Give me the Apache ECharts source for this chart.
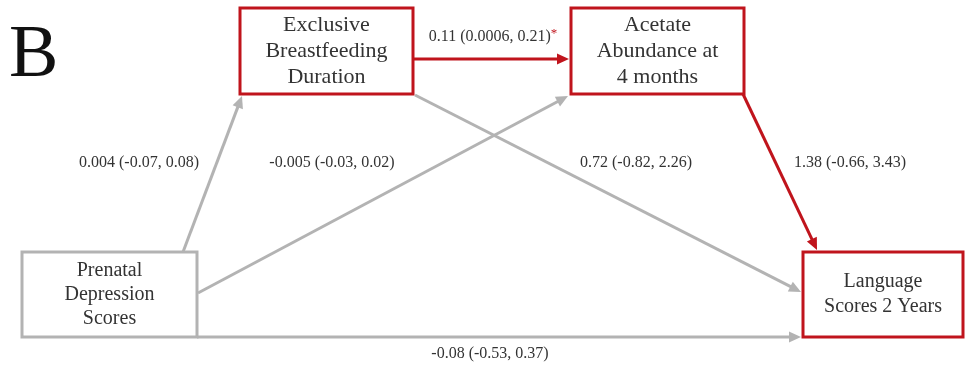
<!DOCTYPE html>
<html>
<head>
<meta charset="utf-8">
<script src="https://cdn.jsdelivr.net/npm/echarts@6/dist/echarts.min.js"></script>
<style>
  html, body { margin: 0; padding: 0; background: #fff; }
  #chart { width: 965px; height: 367px; }
</style>
</head>
<body>
<div id="chart"></div>
<script>
// Variables of the mediation model
const nodeNames = [
  'Prenatal\nDepression\nScores',
  'Exclusive\nBreastfeeding\nDuration',
  'Acetate\nAbundance at\n4 months',
  'Language\nScores 2 Years'
];
const nodeOnPath = [false, true, true, true];

// Path estimates with 95% confidence intervals
const pathEstimate = ['0.004', '-0.005', '0.72', '1.38', '0.11', '-0.08'];
const pathCI = ['(-0.07, 0.08)', '(-0.03, 0.02)', '(-0.82, 2.26)', '(-0.66, 3.43)', '(0.0006, 0.21)', '(-0.53, 0.37)'];
const pathSignificant = [false, false, false, false, true, false];
const pathOnMediation = [false, false, false, true, true, false];

// Diagram layout, in axis units (x: 0..965, y: 0..367 downward)
const nodeBox = [[22, 252, 197, 337], [240, 8, 413, 94], [571, 8, 744, 94], [803, 252, 963, 337]];
const nodeFontSize = [20, 22, 22, 20];
const nodeLineHeight = [24, 26, 26, 25];
const pathStart = [[183, 252], [198, 293], [415, 95], [743, 94], [413, 59], [197, 337]];
const pathEnd = [[242, 96], [568, 96], [801, 292], [817, 250], [569, 59], [801, 337]];
const pathLabelAt = [[139, 163], [332, 163], [636, 163], [850, 163], [493, 37], [490, 354]];

const RED = '#c0141c';
const GREY = '#b3b3b3';
const INK = '#333333';
const SERIF = '"Liberation Serif", "Times New Roman", serif';

const edgeData = pathEstimate.map((e, i) => [
  pathStart[i][0], pathStart[i][1], pathEnd[i][0], pathEnd[i][1],
  pathLabelAt[i][0], pathLabelAt[i][1]
]);
const nodeData = nodeNames.map((n, i) => nodeBox[i].slice());

function renderEdge(params, api) {
  const i = params.dataIndex;
  const a = api.coord([api.value(0), api.value(1)]);
  const b = api.coord([api.value(2), api.value(3)]);
  const l = api.coord([api.value(4), api.value(5)]);
  const color = pathOnMediation[i] ? RED : GREY;
  const dx = b[0] - a[0], dy = b[1] - a[1];
  const len = Math.sqrt(dx * dx + dy * dy);
  const ux = dx / len, uy = dy / len;
  const headLen = 12, headHalf = 5.5;
  const base = [b[0] - ux * headLen, b[1] - uy * headLen];
  const head = [
    b,
    [base[0] - uy * headHalf, base[1] + ux * headHalf],
    [base[0] + uy * headHalf, base[1] - ux * headHalf]
  ];
  const txt = pathSignificant[i]
    ? '{t|' + pathEstimate[i] + ' ' + pathCI[i] + '}{s|*}'
    : '{t|' + pathEstimate[i] + ' ' + pathCI[i] + '}';
  return {
    type: 'group',
    children: [
      { type: 'line', shape: { x1: a[0], y1: a[1], x2: base[0] + ux * 2, y2: base[1] + uy * 2 },
        style: { stroke: color, lineWidth: 3 } },
      { type: 'polygon', shape: { points: head }, style: { fill: color } },
      { type: 'text', x: l[0], y: l[1],
        style: {
          text: txt, align: 'center', verticalAlign: 'middle',
          rich: {
            t: { fontFamily: SERIF, fontSize: 16, fill: INK },
            s: { fontFamily: SERIF, fontSize: 13, fill: RED, verticalAlign: 'top', padding: [0, 0, 6, 0] }
          }
        } }
    ]
  };
}

function renderNode(params, api) {
  const i = params.dataIndex;
  const p0 = api.coord([api.value(0), api.value(1)]);
  const p1 = api.coord([api.value(2), api.value(3)]);
  return {
    type: 'group',
    children: [
      { type: 'rect',
        shape: { x: p0[0], y: p0[1], width: p1[0] - p0[0], height: p1[1] - p0[1] },
        style: { fill: '#fff', stroke: nodeOnPath[i] ? RED : GREY, lineWidth: 3 } },
      { type: 'text', x: (p0[0] + p1[0]) / 2, y: (p0[1] + p1[1]) / 2,
        style: {
          text: nodeNames[i], align: 'center', verticalAlign: 'middle',
          fontFamily: SERIF, fontSize: nodeFontSize[i], lineHeight: nodeLineHeight[i], fill: INK
        } }
    ]
  };
}

const chart = echarts.init(document.getElementById('chart'));
chart.setOption({
  animation: false,
  backgroundColor: '#fff',
  grid: { left: 0, right: 0, top: 0, bottom: 0 },
  xAxis: { type: 'value', min: 0, max: 965, show: false },
  yAxis: { type: 'value', min: 0, max: 367, inverse: true, show: false },
  graphic: [{
    type: 'text', left: 9, top: 20,
    style: { text: 'B', fontFamily: SERIF, fontSize: 74, fill: '#111' }
  }],
  series: [
    { type: 'custom', name: 'paths', renderItem: renderEdge, data: edgeData, clip: false, z: 2 },
    { type: 'custom', name: 'variables', renderItem: renderNode, data: nodeData, clip: false, z: 3 }
  ]
});
</script>
</body>
</html>
